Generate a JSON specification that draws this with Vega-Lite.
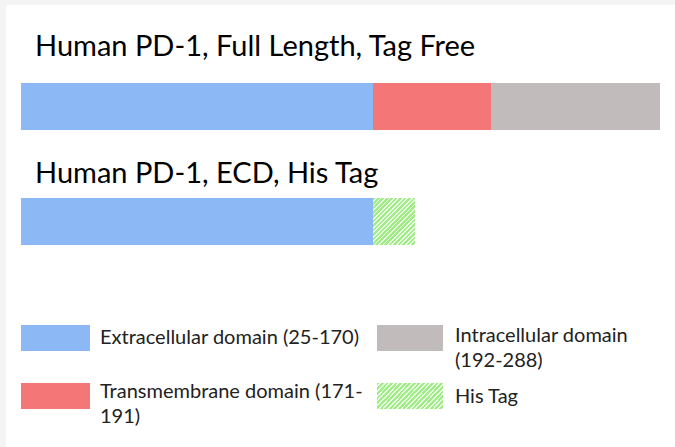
{
  "$schema": "https://vega.github.io/schema/vega-lite/v6.json",
  "width": 675,
  "height": 447,
  "padding": 0,
  "autosize": {"type": "fit", "contains": "padding"},
  "background": "#f4f4f4",
  "config": {"view": {"stroke": null}},
  "datasets": {
    "panel": [{"x": 6, "x2": 675, "y": 5, "y2": 447}],
    "segments": [
      {"construct": "Human PD-1, Full Length, Tag Free", "domain": "Extracellular domain", "start": 21, "end": 373, "top": 83, "bottom": 130},
      {"construct": "Human PD-1, Full Length, Tag Free", "domain": "Transmembrane domain", "start": 373, "end": 491, "top": 83, "bottom": 130},
      {"construct": "Human PD-1, Full Length, Tag Free", "domain": "Intracellular domain", "start": 491, "end": 660, "top": 83, "bottom": 130},
      {"construct": "Human PD-1, ECD, His Tag", "domain": "Extracellular domain", "start": 21, "end": 373, "top": 198, "bottom": 245}
    ],
    "histag": [{"construct": "Human PD-1, ECD, His Tag", "domain": "His Tag", "start": 373, "end": 415, "top": 198, "bottom": 245}],
    "swatches": [
      {"domain": "Extracellular domain", "x": 21, "x2": 90, "y": 325, "y2": 351},
      {"domain": "Intracellular domain", "x": 377, "x2": 443, "y": 325, "y2": 351},
      {"domain": "Transmembrane domain", "x": 21, "x2": 90, "y": 383, "y2": 409}
    ],
    "tagswatch": [{"domain": "His Tag", "x": 377, "x2": 443, "y": 383, "y2": 409}],
    "titles": [
      {"label": "Human PD-1, Full Length, Tag Free", "x": 35, "y": 56},
      {"label": "Human PD-1, ECD, His Tag", "x": 35, "y": 183}
    ],
    "legendtext": [
      {"label": "Extracellular domain (25-170)", "x": 100, "y": 338},
      {"label": "Intracellular domain", "x": 455, "y": 336},
      {"label": "(192-288)", "x": 455, "y": 361},
      {"label": "Transmembrane domain (171-", "x": 100, "y": 392},
      {"label": "191)", "x": 100, "y": 417},
      {"label": "His Tag", "x": 455, "y": 397}
    ]
  },
  "layer": [
    {
      "data": {"name": "panel"},
      "mark": {"type": "rect", "color": "#ffffff"},
      "encoding": {
        "x": {"field": "x", "type": "quantitative", "scale": {"domain": [0, 675], "nice": false, "zero": false}, "axis": null},
        "x2": {"field": "x2"},
        "y": {"field": "y", "type": "quantitative", "scale": {"domain": [0, 447], "nice": false, "zero": false, "reverse": true}, "axis": null},
        "y2": {"field": "y2"}
      }
    },
    {
      "data": {"name": "segments"},
      "mark": {"type": "rect"},
      "encoding": {
        "x": {"field": "start", "type": "quantitative"},
        "x2": {"field": "end"},
        "y": {"field": "top", "type": "quantitative"},
        "y2": {"field": "bottom"},
        "color": {"field": "domain", "type": "nominal", "legend": null,
          "scale": {"domain": ["Extracellular domain", "Transmembrane domain", "Intracellular domain"], "range": ["#8cb9f5", "#f47676", "#c1bbbc"]}}
      }
    },
    {
      "data": {"name": "swatches"},
      "mark": {"type": "rect"},
      "encoding": {
        "x": {"field": "x", "type": "quantitative"},
        "x2": {"field": "x2"},
        "y": {"field": "y", "type": "quantitative"},
        "y2": {"field": "y2"},
        "color": {"field": "domain", "type": "nominal", "legend": null}
      }
    },
    {
      "data": {"name": "histag"},
      "mark": {"type": "rect", "color": {"gradient": "linear", "x1": 0, "y1": 0, "x2": 0.941, "y2": 1.053, "stops": [
        {"offset":0,"color":"#a0ec86"},{"offset":0.03,"color":"#a0ec86"},{"offset":0.03,"color":"#ecfbe6"},{"offset":0.05,"color":"#ecfbe6"},
        {"offset":0.05,"color":"#a0ec86"},{"offset":0.08,"color":"#a0ec86"},{"offset":0.08,"color":"#ecfbe6"},{"offset":0.1,"color":"#ecfbe6"},
        {"offset":0.1,"color":"#a0ec86"},{"offset":0.13,"color":"#a0ec86"},{"offset":0.13,"color":"#ecfbe6"},{"offset":0.15,"color":"#ecfbe6"},
        {"offset":0.15,"color":"#a0ec86"},{"offset":0.18,"color":"#a0ec86"},{"offset":0.18,"color":"#ecfbe6"},{"offset":0.2,"color":"#ecfbe6"},
        {"offset":0.2,"color":"#a0ec86"},{"offset":0.23,"color":"#a0ec86"},{"offset":0.23,"color":"#ecfbe6"},{"offset":0.25,"color":"#ecfbe6"},
        {"offset":0.25,"color":"#a0ec86"},{"offset":0.28,"color":"#a0ec86"},{"offset":0.28,"color":"#ecfbe6"},{"offset":0.3,"color":"#ecfbe6"},
        {"offset":0.3,"color":"#a0ec86"},{"offset":0.33,"color":"#a0ec86"},{"offset":0.33,"color":"#ecfbe6"},{"offset":0.35,"color":"#ecfbe6"},
        {"offset":0.35,"color":"#a0ec86"},{"offset":0.38,"color":"#a0ec86"},{"offset":0.38,"color":"#ecfbe6"},{"offset":0.4,"color":"#ecfbe6"},
        {"offset":0.4,"color":"#a0ec86"},{"offset":0.43,"color":"#a0ec86"},{"offset":0.43,"color":"#ecfbe6"},{"offset":0.45,"color":"#ecfbe6"},
        {"offset":0.45,"color":"#a0ec86"},{"offset":0.48,"color":"#a0ec86"},{"offset":0.48,"color":"#ecfbe6"},{"offset":0.5,"color":"#ecfbe6"},
        {"offset":0.5,"color":"#a0ec86"},{"offset":0.53,"color":"#a0ec86"},{"offset":0.53,"color":"#ecfbe6"},{"offset":0.55,"color":"#ecfbe6"},
        {"offset":0.55,"color":"#a0ec86"},{"offset":0.58,"color":"#a0ec86"},{"offset":0.58,"color":"#ecfbe6"},{"offset":0.6,"color":"#ecfbe6"},
        {"offset":0.6,"color":"#a0ec86"},{"offset":0.63,"color":"#a0ec86"},{"offset":0.63,"color":"#ecfbe6"},{"offset":0.65,"color":"#ecfbe6"},
        {"offset":0.65,"color":"#a0ec86"},{"offset":0.68,"color":"#a0ec86"},{"offset":0.68,"color":"#ecfbe6"},{"offset":0.7,"color":"#ecfbe6"},
        {"offset":0.7,"color":"#a0ec86"},{"offset":0.73,"color":"#a0ec86"},{"offset":0.73,"color":"#ecfbe6"},{"offset":0.75,"color":"#ecfbe6"},
        {"offset":0.75,"color":"#a0ec86"},{"offset":0.78,"color":"#a0ec86"},{"offset":0.78,"color":"#ecfbe6"},{"offset":0.8,"color":"#ecfbe6"},
        {"offset":0.8,"color":"#a0ec86"},{"offset":0.83,"color":"#a0ec86"},{"offset":0.83,"color":"#ecfbe6"},{"offset":0.85,"color":"#ecfbe6"},
        {"offset":0.85,"color":"#a0ec86"},{"offset":0.88,"color":"#a0ec86"},{"offset":0.88,"color":"#ecfbe6"},{"offset":0.9,"color":"#ecfbe6"},
        {"offset":0.9,"color":"#a0ec86"},{"offset":0.93,"color":"#a0ec86"},{"offset":0.93,"color":"#ecfbe6"},{"offset":0.95,"color":"#ecfbe6"},
        {"offset":0.95,"color":"#a0ec86"},{"offset":0.98,"color":"#a0ec86"},{"offset":0.98,"color":"#ecfbe6"},{"offset":1,"color":"#ecfbe6"}
      ]}},
      "encoding": {
        "x": {"field": "start", "type": "quantitative"},
        "x2": {"field": "end"},
        "y": {"field": "top", "type": "quantitative"},
        "y2": {"field": "bottom"}
      }
    },
    {
      "data": {"name": "tagswatch"},
      "mark": {"type": "rect", "color": {"gradient": "linear", "x1": 0, "y1": 0, "x2": 1.206, "y2": 0.457, "stops": [
        {"offset":0,"color":"#a0ec86"},{"offset":0.03,"color":"#a0ec86"},{"offset":0.03,"color":"#ecfbe6"},{"offset":0.05,"color":"#ecfbe6"},
        {"offset":0.05,"color":"#a0ec86"},{"offset":0.08,"color":"#a0ec86"},{"offset":0.08,"color":"#ecfbe6"},{"offset":0.1,"color":"#ecfbe6"},
        {"offset":0.1,"color":"#a0ec86"},{"offset":0.13,"color":"#a0ec86"},{"offset":0.13,"color":"#ecfbe6"},{"offset":0.15,"color":"#ecfbe6"},
        {"offset":0.15,"color":"#a0ec86"},{"offset":0.18,"color":"#a0ec86"},{"offset":0.18,"color":"#ecfbe6"},{"offset":0.2,"color":"#ecfbe6"},
        {"offset":0.2,"color":"#a0ec86"},{"offset":0.23,"color":"#a0ec86"},{"offset":0.23,"color":"#ecfbe6"},{"offset":0.25,"color":"#ecfbe6"},
        {"offset":0.25,"color":"#a0ec86"},{"offset":0.28,"color":"#a0ec86"},{"offset":0.28,"color":"#ecfbe6"},{"offset":0.3,"color":"#ecfbe6"},
        {"offset":0.3,"color":"#a0ec86"},{"offset":0.33,"color":"#a0ec86"},{"offset":0.33,"color":"#ecfbe6"},{"offset":0.35,"color":"#ecfbe6"},
        {"offset":0.35,"color":"#a0ec86"},{"offset":0.38,"color":"#a0ec86"},{"offset":0.38,"color":"#ecfbe6"},{"offset":0.4,"color":"#ecfbe6"},
        {"offset":0.4,"color":"#a0ec86"},{"offset":0.43,"color":"#a0ec86"},{"offset":0.43,"color":"#ecfbe6"},{"offset":0.45,"color":"#ecfbe6"},
        {"offset":0.45,"color":"#a0ec86"},{"offset":0.48,"color":"#a0ec86"},{"offset":0.48,"color":"#ecfbe6"},{"offset":0.5,"color":"#ecfbe6"},
        {"offset":0.5,"color":"#a0ec86"},{"offset":0.53,"color":"#a0ec86"},{"offset":0.53,"color":"#ecfbe6"},{"offset":0.55,"color":"#ecfbe6"},
        {"offset":0.55,"color":"#a0ec86"},{"offset":0.58,"color":"#a0ec86"},{"offset":0.58,"color":"#ecfbe6"},{"offset":0.6,"color":"#ecfbe6"},
        {"offset":0.6,"color":"#a0ec86"},{"offset":0.63,"color":"#a0ec86"},{"offset":0.63,"color":"#ecfbe6"},{"offset":0.65,"color":"#ecfbe6"},
        {"offset":0.65,"color":"#a0ec86"},{"offset":0.68,"color":"#a0ec86"},{"offset":0.68,"color":"#ecfbe6"},{"offset":0.7,"color":"#ecfbe6"},
        {"offset":0.7,"color":"#a0ec86"},{"offset":0.73,"color":"#a0ec86"},{"offset":0.73,"color":"#ecfbe6"},{"offset":0.75,"color":"#ecfbe6"},
        {"offset":0.75,"color":"#a0ec86"},{"offset":0.78,"color":"#a0ec86"},{"offset":0.78,"color":"#ecfbe6"},{"offset":0.8,"color":"#ecfbe6"},
        {"offset":0.8,"color":"#a0ec86"},{"offset":0.83,"color":"#a0ec86"},{"offset":0.83,"color":"#ecfbe6"},{"offset":0.85,"color":"#ecfbe6"},
        {"offset":0.85,"color":"#a0ec86"},{"offset":0.88,"color":"#a0ec86"},{"offset":0.88,"color":"#ecfbe6"},{"offset":0.9,"color":"#ecfbe6"},
        {"offset":0.9,"color":"#a0ec86"},{"offset":0.93,"color":"#a0ec86"},{"offset":0.93,"color":"#ecfbe6"},{"offset":0.95,"color":"#ecfbe6"},
        {"offset":0.95,"color":"#a0ec86"},{"offset":0.98,"color":"#a0ec86"},{"offset":0.98,"color":"#ecfbe6"},{"offset":1,"color":"#ecfbe6"}
      ]}},
      "encoding": {
        "x": {"field": "x", "type": "quantitative"},
        "x2": {"field": "x2"},
        "y": {"field": "y", "type": "quantitative"},
        "y2": {"field": "y2"}
      }
    },
    {
      "data": {"name": "titles"},
      "mark": {"type": "text", "font": "Lato", "fontSize": 29, "color": "#000000", "align": "left", "baseline": "alphabetic"},
      "encoding": {
        "x": {"field": "x", "type": "quantitative"},
        "y": {"field": "y", "type": "quantitative"},
        "text": {"field": "label"}
      }
    },
    {
      "data": {"name": "legendtext"},
      "mark": {"type": "text", "font": "Lato", "fontSize": 20, "color": "#222222", "align": "left", "baseline": "middle"},
      "encoding": {
        "x": {"field": "x", "type": "quantitative"},
        "y": {"field": "y", "type": "quantitative"},
        "text": {"field": "label"}
      }
    }
  ]
}
